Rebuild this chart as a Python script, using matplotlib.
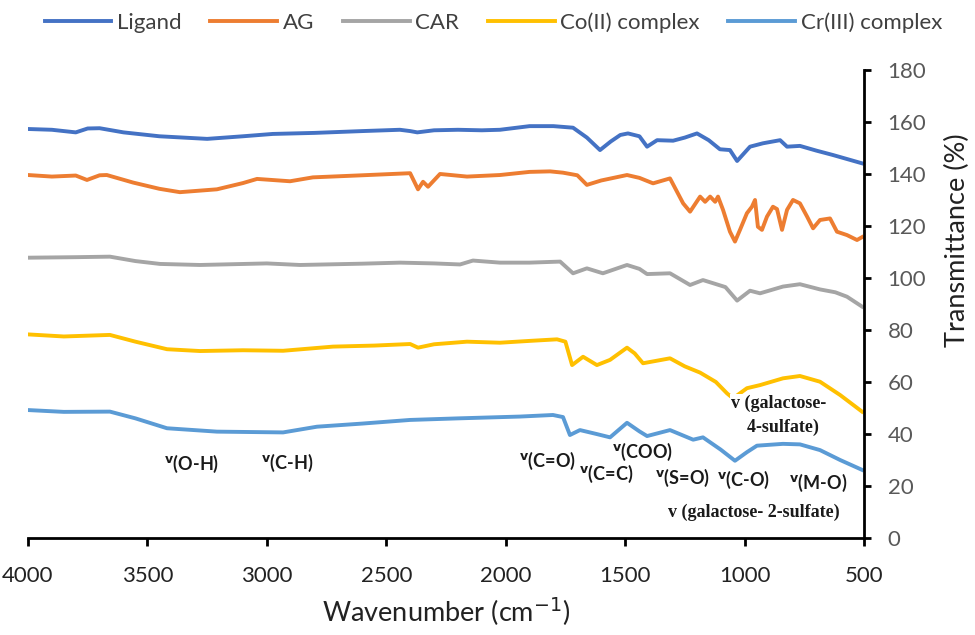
import matplotlib.pyplot as plt

plt.rcParams['font.family'] = ['Lato', 'DejaVu Sans']

# ---- data ----
ligand_wn = [4000, 3900, 3800, 3750, 3700, 3600, 3450, 3250, 3100, 2975, 2800, 2600, 2443, 2400, 2370,
             2300, 2200, 2100, 2024, 1900, 1800, 1718, 1660, 1605, 1560, 1520, 1488, 1440, 1408, 1366,
             1299, 1250, 1199, 1150, 1103, 1061, 1031, 977, 923, 851, 822, 768, 700, 630, 508]
ligand_t = [157.3, 157, 156, 157.5, 157.6, 156, 154.5, 153.5, 154.5, 155.4, 155.8, 156.5, 157, 156.5, 156,
            156.8, 157, 156.8, 157, 158.4, 158.4, 157.8, 154, 149.2, 152.5, 155, 155.6, 154.5, 150.5, 153,
            152.8, 154, 155.6, 153, 149.5, 149.2, 145, 150.5, 151.8, 153, 150.5, 150.8, 149, 147.3, 144.1]

ag_wn = [4000, 3900, 3800, 3753, 3700, 3670, 3560, 3450, 3364, 3209, 3100, 3041, 2903, 2807, 2600, 2400,
         2367, 2346, 2325, 2275, 2162, 2024, 1900, 1814, 1760, 1700, 1660, 1600, 1492, 1440, 1383, 1312,
         1257, 1228, 1186, 1165, 1144, 1123, 1111, 1090, 1061, 1040, 1019, 990, 969, 956, 944, 927, 906,
         881, 864, 843, 822, 797, 768, 738, 713, 684, 642, 613, 571, 529, 508]
ag_t = [139.6, 139, 139.4, 137.7, 139.5, 139.6, 136.7, 134.3, 133, 134.1, 136.5, 138.1, 137.2, 138.7, 139.5,
        140.3, 134.1, 137, 135.1, 140, 139, 139.6, 140.8, 141, 140.5, 139.5, 135.8, 137.5, 139.6, 138.5,
        136.4, 138.3, 128.7, 125.5, 131.3, 129.3, 131.3, 129.3, 131.3, 126.2, 117.8, 114, 118.5, 124.9,
        127.4, 130, 119.7, 118.5, 123.6, 127.4, 126.5, 118.5, 126.2, 130, 128.7, 123.6, 119.1, 122.3,
        122.9, 117.8, 116.5, 114.6, 115.7]

car_wn = [4000, 3800, 3657, 3550, 3447, 3280, 3000, 2861, 2600, 2442, 2300, 2191, 2137, 2024, 1900, 1772,
          1718, 1660, 1593, 1492, 1440, 1408, 1312, 1228, 1174, 1132, 1080, 1031, 977, 935, 839, 768, 684,
          620, 571, 508]
car_t = [107.8, 108, 108.2, 106.5, 105.4, 105, 105.6, 105, 105.5, 105.9, 105.6, 105.2, 106.7, 105.9, 105.9,
         106.3, 101.8, 103.7, 101.8, 105, 103.5, 101.5, 101.8, 97.3, 99.2, 98, 96.5, 91.3, 95.1, 94.1,
         96.7, 97.6, 95.6, 94.5, 92.8, 89]

co_wn = [4000, 3850, 3657, 3550, 3418, 3280, 3100, 2932, 2723, 2550, 2400, 2367, 2300, 2162, 2024, 1900,
         1785, 1750, 1722, 1676, 1618, 1563, 1492, 1460, 1425, 1312, 1250, 1186, 1120, 1073, 1048, 990,
         935, 839, 768, 684, 600, 508]
co_t = [78.3, 77.5, 78.1, 75.5, 72.6, 71.9, 72.2, 72, 73.6, 74, 74.6, 73.2, 74.5, 75.5, 75.1, 75.8, 76.4,
        75.5, 66.5, 69.7, 66.5, 68.5, 73.2, 71, 67.2, 69.1, 66, 63.6, 60, 55.6, 53.7, 57.6, 58.8, 61.4,
        62.3, 60.1, 55, 48.6]

cr_wn = [4000, 3850, 3657, 3550, 3418, 3209, 2932, 2790, 2600, 2400, 2200, 1940, 1802, 1760, 1731, 1689,
         1620, 1563, 1492, 1440, 1408, 1312, 1215, 1174, 1100, 1040, 990, 948, 839, 768, 684, 600, 508]
cr_t = [49.2, 48.5, 48.6, 46, 42.2, 40.9, 40.6, 42.8, 44, 45.4, 46, 46.7, 47.3, 46.5, 39.6, 41.5, 40,
        38.7, 44.3, 41, 39.2, 41.5, 37.8, 38.7, 34, 29.7, 33, 35.5, 36.2, 36, 33.8, 30, 26.2]

series_names = ['Ligand', 'AG', 'CAR', 'Co(II) complex', 'Cr(III) complex']
colors = ['#4472C4', '#ED7D31', '#A5A5A5', '#FFC000', '#5B9BD5']

# band labels: (text, wavenumber, transmittance)
bands = [('(O-H)', 3313, 28.3), ('(C-H)', 2916, 28.8), ('(C=O)', 1823, 29.6),
         ('(C=C)', 1580, 24.6), ('(COO)', 1429, 33.0), ('(S=O)', 1258, 23.0),
         ('(C-O)', 1002, 22.3), ('(M-O)', 692, 21.0)]

fig = plt.figure(figsize=(9.75, 6.35), dpi=100)
ax = fig.add_axes([0.0287, 0.1528, 0.8574, 0.737])

spectra = [(ligand_wn, ligand_t), (ag_wn, ag_t), (car_wn, car_t), (co_wn, co_t), (cr_wn, cr_t)]
for (wn, t), name, c in zip(spectra, series_names, colors):
    ax.plot(wn, t, color=c, lw=2.8, label=name, solid_joinstyle='round')

ax.set_xlim(4000, 500)
ax.set_ylim(0, 180)
ax.set_xticks([4000, 3500, 3000, 2500, 2000, 1500, 1000, 500])
ax.set_yticks(range(0, 181, 20))

ax.spines['top'].set_visible(False)
ax.spines['left'].set_visible(False)
ax.spines['right'].set_linewidth(2)
ax.spines['bottom'].set_linewidth(2)
ax.yaxis.tick_right()
ax.yaxis.set_label_position('right')
ax.tick_params(axis='y', direction='out', length=5, width=2, pad=12,
               labelsize=16, labelcolor='#595959')
ax.tick_params(axis='x', direction='out', length=6, width=2, pad=14,
               labelsize=16, labelcolor='#222222')

ax.set_xlabel('Wavenumber (cm$^{-1}$)', fontsize=19.5, color='#222222', labelpad=7)
ax.set_ylabel('Transmittance (%)', fontsize=19.5, color='#222222')
ax.yaxis.set_label_coords(1.097, 0.637)

for txt, x, y in bands:
    ax.text(x, y, r'$^{\mathbf{v}}$' + txt, ha='center', va='center',
            fontsize=13, fontweight='bold', color='#1a1a1a')

ax.text(858, 47, 'v (galactose-\n  4-sulfate)', ha='center', va='center',
        fontsize=13, fontweight='bold', family='Liberation Serif', color='#1a1a1a',
        linespacing=1.5, zorder=5,
        bbox=dict(facecolor='white', edgecolor='none', pad=0.5))
ax.text(960, 10, 'v (galactose- 2-sulfate)', ha='center', va='center',
        fontsize=13, fontweight='bold', family='Liberation Serif', color='#1a1a1a')

fig.legend(loc='upper center', bbox_to_anchor=(0.506, 1.012), ncol=5, frameon=False,
           fontsize=16, handlelength=3.0, columnspacing=1.3, handletextpad=0.25,
           labelcolor='#404040')

fig.savefig('out.png', dpi=100)
